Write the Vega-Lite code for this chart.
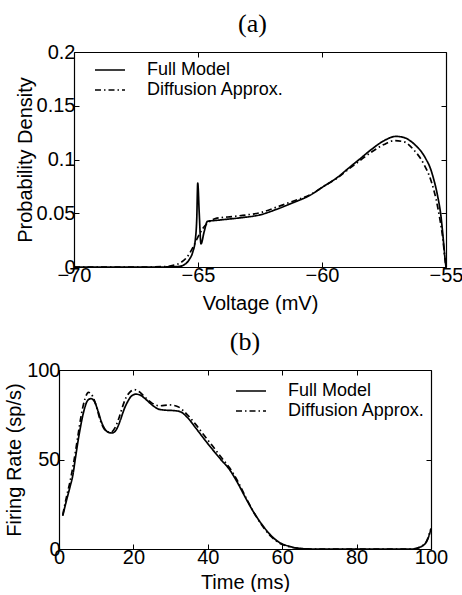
{
  "$schema": "https://vega.github.io/schema/vega-lite/v6.json",
  "padding": {"left": 4, "top": 11, "right": 0, "bottom": 0},
  "spacing": 16,
  "columns": 1,
  "resolve": {"scale": {"strokeDash": "independent"}, "legend": {"strokeDash": "independent"}},
  "config": {
    "font": "Liberation Sans",
    "view": {"stroke": null},
    "axis": {
      "domain": true, "domainColor": "black", "domainWidth": 1.2, "grid": false, "ticks": true, "tickColor": "black", "tickSize": -5, "tickWidth": 1,
      "labelFont": "Liberation Sans", "labelFontSize": 20, "labelColor": "black", "labelFlush": false, "labelOverlap": false,
      "titleFont": "Liberation Sans", "titleFontSize": 20, "titleFontWeight": "normal", "titleColor": "black",
      "labelPadding": 4, "titlePadding": 2
    },
    "axisX": {"labelPadding": 3, "titlePadding": 8},
    "legend": {"padding": 0},
    "title": {"font": "Liberation Serif", "fontSize": 26, "fontWeight": "normal", "color": "black", "anchor": "middle"}
  },
  "concat": [
    {
      "title": {"text": "(a)", "offset": 5},
      "width": 387, "height": 215,
      "data": {"values": [
        {"v": -70, "p": 0, "series": "Full Model"},
        {"v": -66.5, "p": 0, "series": "Full Model"},
        {"v": -66.0, "p": 0.0002, "series": "Full Model"},
        {"v": -65.7, "p": 0.0008, "series": "Full Model"},
        {"v": -65.5, "p": 0.003, "series": "Full Model"},
        {"v": -65.35, "p": 0.007, "series": "Full Model"},
        {"v": -65.21, "p": 0.014, "series": "Full Model"},
        {"v": -65.11, "p": 0.025, "series": "Full Model"},
        {"v": -65.05, "p": 0.045, "series": "Full Model"},
        {"v": -65.01, "p": 0.078, "series": "Full Model"},
        {"v": -64.95, "p": 0.05, "series": "Full Model"},
        {"v": -64.88, "p": 0.0215, "series": "Full Model"},
        {"v": -64.75, "p": 0.033, "series": "Full Model"},
        {"v": -64.62, "p": 0.0425, "series": "Full Model"},
        {"v": -64.2, "p": 0.0435, "series": "Full Model"},
        {"v": -63.8, "p": 0.0445, "series": "Full Model"},
        {"v": -63.2, "p": 0.046, "series": "Full Model"},
        {"v": -62.5, "p": 0.0485, "series": "Full Model"},
        {"v": -61.85, "p": 0.0535, "series": "Full Model"},
        {"v": -61.2, "p": 0.0595, "series": "Full Model"},
        {"v": -60.5, "p": 0.0665, "series": "Full Model"},
        {"v": -59.9, "p": 0.0755, "series": "Full Model"},
        {"v": -59.4, "p": 0.083, "series": "Full Model"},
        {"v": -58.9, "p": 0.0925, "series": "Full Model"},
        {"v": -58.5, "p": 0.1, "series": "Full Model"},
        {"v": -58.0, "p": 0.1095, "series": "Full Model"},
        {"v": -57.5, "p": 0.1175, "series": "Full Model"},
        {"v": -57.02, "p": 0.1215, "series": "Full Model"},
        {"v": -56.7, "p": 0.1205, "series": "Full Model"},
        {"v": -56.45, "p": 0.1175, "series": "Full Model"},
        {"v": -56.21, "p": 0.1128, "series": "Full Model"},
        {"v": -56.0, "p": 0.1075, "series": "Full Model"},
        {"v": -55.81, "p": 0.1005, "series": "Full Model"},
        {"v": -55.65, "p": 0.093, "series": "Full Model"},
        {"v": -55.5, "p": 0.082, "series": "Full Model"},
        {"v": -55.34, "p": 0.0663, "series": "Full Model"},
        {"v": -55.2, "p": 0.0467, "series": "Full Model"},
        {"v": -55.11, "p": 0.0258, "series": "Full Model"},
        {"v": -55.04, "p": 0.008, "series": "Full Model"},
        {"v": -55, "p": 0, "series": "Full Model"},
        {"v": -70, "p": 0, "series": "Diffusion Approx."},
        {"v": -67, "p": 0, "series": "Diffusion Approx."},
        {"v": -66.3, "p": 0.0005, "series": "Diffusion Approx."},
        {"v": -66.0, "p": 0.0015, "series": "Diffusion Approx."},
        {"v": -65.7, "p": 0.004, "series": "Diffusion Approx."},
        {"v": -65.45, "p": 0.009, "series": "Diffusion Approx."},
        {"v": -65.21, "p": 0.018, "series": "Diffusion Approx."},
        {"v": -65.0, "p": 0.028, "series": "Diffusion Approx."},
        {"v": -64.8, "p": 0.036, "series": "Diffusion Approx."},
        {"v": -64.6, "p": 0.041, "series": "Diffusion Approx."},
        {"v": -64.3, "p": 0.045, "series": "Diffusion Approx."},
        {"v": -63.8, "p": 0.0465, "series": "Diffusion Approx."},
        {"v": -63.2, "p": 0.048, "series": "Diffusion Approx."},
        {"v": -62.5, "p": 0.0505, "series": "Diffusion Approx."},
        {"v": -61.85, "p": 0.0555, "series": "Diffusion Approx."},
        {"v": -61.2, "p": 0.061, "series": "Diffusion Approx."},
        {"v": -60.5, "p": 0.067, "series": "Diffusion Approx."},
        {"v": -59.9, "p": 0.0755, "series": "Diffusion Approx."},
        {"v": -59.4, "p": 0.0825, "series": "Diffusion Approx."},
        {"v": -58.9, "p": 0.0915, "series": "Diffusion Approx."},
        {"v": -58.5, "p": 0.0985, "series": "Diffusion Approx."},
        {"v": -58.0, "p": 0.107, "series": "Diffusion Approx."},
        {"v": -57.5, "p": 0.114, "series": "Diffusion Approx."},
        {"v": -57.1, "p": 0.1175, "series": "Diffusion Approx."},
        {"v": -56.7, "p": 0.1165, "series": "Diffusion Approx."},
        {"v": -56.3, "p": 0.109, "series": "Diffusion Approx."},
        {"v": -55.9, "p": 0.096, "series": "Diffusion Approx."},
        {"v": -55.6, "p": 0.08, "series": "Diffusion Approx."},
        {"v": -55.4, "p": 0.063, "series": "Diffusion Approx."},
        {"v": -55.25, "p": 0.045, "series": "Diffusion Approx."},
        {"v": -55.12, "p": 0.025, "series": "Diffusion Approx."},
        {"v": -55.04, "p": 0.007, "series": "Diffusion Approx."},
        {"v": -55, "p": 0, "series": "Diffusion Approx."}
      ]},
      "resolve": {"axis": {"x": "independent", "y": "independent"}},
      "layer": [
        {
          "mark": {"type": "line", "color": "black", "strokeWidth": 1.7, "strokeJoin": "round", "interpolate": "monotone"},
          "encoding": {
            "x": {"field": "v", "type": "quantitative", "scale": {"domain": [-70, -55], "nice": false, "zero": false, "range": [15, 387]},
                  "axis": {"orient": "bottom", "values": [-70, -65, -60, -55], "title": "Voltage (mV)"}},
            "y": {"field": "p", "type": "quantitative", "scale": {"domain": [0, 0.2], "nice": false},
                  "axis": {"orient": "left", "offset": -15, "values": [0, 0.05, 0.1, 0.15, 0.2], "format": "~g", "title": "Probability Density", "titlePadding": 1}},
            "strokeDash": {"field": "series", "type": "nominal",
                  "scale": {"domain": ["Full Model", "Diffusion Approx."], "range": [[1, 0], [6, 3, 1.5, 3]]},
                  "legend": {"orient": "none", "legendX": 42, "legendY": 9, "title": null, "symbolType": "M-2.5,0H2.5", "symbolSize": 144,
                             "symbolStrokeWidth": 1.6, "symbolStrokeColor": "black", "symbolFillColor": "transparent", "labelFontSize": 18, "labelColor": "black",
                             "labelOffset": 28, "rowPadding": 2}}
          }
        },
        {
          "mark": {"type": "line", "opacity": 0},
          "encoding": {
            "x": {"field": "v", "type": "quantitative", "axis": {"orient": "top", "values": [-70, -65, -60, -55], "labels": false, "title": null}},
            "y": {"field": "p", "type": "quantitative", "axis": {"orient": "right", "values": [0, 0.05, 0.1, 0.15, 0.2], "labels": false, "title": null}},
            "detail": {"field": "series"}
          }
        }
      ]
    },
    {
      "title": {"text": "(b)", "offset": 5},
      "width": 372, "height": 179,
      "data": {"values": [
        {"t": 1, "r": 18.5, "series": "Full Model"},
        {"t": 2, "r": 27, "series": "Full Model"},
        {"t": 3, "r": 35, "series": "Full Model"},
        {"t": 3.7, "r": 41, "series": "Full Model"},
        {"t": 4.5, "r": 52, "series": "Full Model"},
        {"t": 5.5, "r": 65, "series": "Full Model"},
        {"t": 6.8, "r": 78, "series": "Full Model"},
        {"t": 7.7, "r": 83, "series": "Full Model"},
        {"t": 8.6, "r": 84, "series": "Full Model"},
        {"t": 9.5, "r": 82.5, "series": "Full Model"},
        {"t": 10.5, "r": 77, "series": "Full Model"},
        {"t": 11.5, "r": 70.5, "series": "Full Model"},
        {"t": 12.5, "r": 66.5, "series": "Full Model"},
        {"t": 13.5, "r": 65, "series": "Full Model"},
        {"t": 14.25, "r": 64.8, "series": "Full Model"},
        {"t": 15.5, "r": 67, "series": "Full Model"},
        {"t": 16.5, "r": 72, "series": "Full Model"},
        {"t": 17.5, "r": 78, "series": "Full Model"},
        {"t": 18.5, "r": 82.5, "series": "Full Model"},
        {"t": 19.5, "r": 85.5, "series": "Full Model"},
        {"t": 20.7, "r": 86.5, "series": "Full Model"},
        {"t": 21.8, "r": 86, "series": "Full Model"},
        {"t": 23.4, "r": 83.5, "series": "Full Model"},
        {"t": 25, "r": 80.5, "series": "Full Model"},
        {"t": 27, "r": 78, "series": "Full Model"},
        {"t": 29, "r": 77.5, "series": "Full Model"},
        {"t": 31, "r": 77.3, "series": "Full Model"},
        {"t": 32.8, "r": 76.5, "series": "Full Model"},
        {"t": 34.5, "r": 73.5, "series": "Full Model"},
        {"t": 36.8, "r": 67.5, "series": "Full Model"},
        {"t": 39, "r": 61.5, "series": "Full Model"},
        {"t": 41.3, "r": 55.5, "series": "Full Model"},
        {"t": 43.5, "r": 50, "series": "Full Model"},
        {"t": 45.8, "r": 44.5, "series": "Full Model"},
        {"t": 48, "r": 37, "series": "Full Model"},
        {"t": 50.3, "r": 28, "series": "Full Model"},
        {"t": 52.5, "r": 20, "series": "Full Model"},
        {"t": 54.8, "r": 13, "series": "Full Model"},
        {"t": 57, "r": 7.5, "series": "Full Model"},
        {"t": 59.2, "r": 3.7, "series": "Full Model"},
        {"t": 61.9, "r": 1.5, "series": "Full Model"},
        {"t": 65, "r": 0.3, "series": "Full Model"},
        {"t": 68, "r": 0, "series": "Full Model"},
        {"t": 95, "r": 0, "series": "Full Model"},
        {"t": 96.9, "r": 0.9, "series": "Full Model"},
        {"t": 98.7, "r": 3.7, "series": "Full Model"},
        {"t": 100, "r": 11.2, "series": "Full Model"},
        {"t": 1, "r": 19, "series": "Diffusion Approx."},
        {"t": 2, "r": 29, "series": "Diffusion Approx."},
        {"t": 3, "r": 38, "series": "Diffusion Approx."},
        {"t": 4, "r": 49, "series": "Diffusion Approx."},
        {"t": 5, "r": 62, "series": "Diffusion Approx."},
        {"t": 6, "r": 75, "series": "Diffusion Approx."},
        {"t": 7, "r": 84, "series": "Diffusion Approx."},
        {"t": 7.9, "r": 87.5, "series": "Diffusion Approx."},
        {"t": 9, "r": 85.5, "series": "Diffusion Approx."},
        {"t": 10, "r": 80, "series": "Diffusion Approx."},
        {"t": 11, "r": 72.5, "series": "Diffusion Approx."},
        {"t": 12, "r": 67.5, "series": "Diffusion Approx."},
        {"t": 13, "r": 65.5, "series": "Diffusion Approx."},
        {"t": 14, "r": 65.3, "series": "Diffusion Approx."},
        {"t": 15, "r": 67.5, "series": "Diffusion Approx."},
        {"t": 16, "r": 72.5, "series": "Diffusion Approx."},
        {"t": 17, "r": 79, "series": "Diffusion Approx."},
        {"t": 18, "r": 84.5, "series": "Diffusion Approx."},
        {"t": 19, "r": 87.5, "series": "Diffusion Approx."},
        {"t": 20.2, "r": 89, "series": "Diffusion Approx."},
        {"t": 21.5, "r": 88, "series": "Diffusion Approx."},
        {"t": 23, "r": 85, "series": "Diffusion Approx."},
        {"t": 25, "r": 81.5, "series": "Diffusion Approx."},
        {"t": 27, "r": 80, "series": "Diffusion Approx."},
        {"t": 29.7, "r": 80.5, "series": "Diffusion Approx."},
        {"t": 32, "r": 79.5, "series": "Diffusion Approx."},
        {"t": 34.5, "r": 75, "series": "Diffusion Approx."},
        {"t": 36.8, "r": 69.5, "series": "Diffusion Approx."},
        {"t": 39, "r": 63.5, "series": "Diffusion Approx."},
        {"t": 41.3, "r": 57.5, "series": "Diffusion Approx."},
        {"t": 43.5, "r": 51.5, "series": "Diffusion Approx."},
        {"t": 45.8, "r": 45.5, "series": "Diffusion Approx."},
        {"t": 48, "r": 38, "series": "Diffusion Approx."},
        {"t": 50.3, "r": 28.5, "series": "Diffusion Approx."},
        {"t": 52.5, "r": 20, "series": "Diffusion Approx."},
        {"t": 54.8, "r": 12.5, "series": "Diffusion Approx."},
        {"t": 57, "r": 7, "series": "Diffusion Approx."},
        {"t": 59.2, "r": 3.4, "series": "Diffusion Approx."},
        {"t": 61.9, "r": 1.3, "series": "Diffusion Approx."},
        {"t": 65, "r": 0.2, "series": "Diffusion Approx."},
        {"t": 68, "r": 0, "series": "Diffusion Approx."},
        {"t": 95, "r": 0, "series": "Diffusion Approx."},
        {"t": 96.9, "r": 1, "series": "Diffusion Approx."},
        {"t": 98.7, "r": 4, "series": "Diffusion Approx."},
        {"t": 100, "r": 11.5, "series": "Diffusion Approx."}
      ]},
      "resolve": {"axis": {"x": "independent", "y": "independent"}},
      "layer": [
        {
          "mark": {"type": "line", "color": "black", "strokeWidth": 1.7, "strokeJoin": "round", "interpolate": "monotone"},
          "encoding": {
            "x": {"field": "t", "type": "quantitative", "scale": {"domain": [0, 100], "nice": false},
                  "axis": {"orient": "bottom", "values": [0, 20, 40, 60, 80, 100], "title": "Time (ms)", "titlePadding": 5}},
            "y": {"field": "r", "type": "quantitative", "scale": {"domain": [0, 100], "nice": false},
                  "axis": {"orient": "left", "values": [0, 50, 100], "title": "Firing Rate (sp/s)"}},
            "strokeDash": {"field": "series", "type": "nominal",
                  "scale": {"domain": ["Full Model", "Diffusion Approx."], "range": [[1, 0], [6, 3, 1.5, 3]]},
                  "legend": {"orient": "none", "legendX": 183, "legendY": 12, "title": null, "symbolType": "M-2.5,0H2.5", "symbolSize": 144,
                             "symbolStrokeWidth": 1.6, "symbolStrokeColor": "black", "symbolFillColor": "transparent", "labelFontSize": 18, "labelColor": "black",
                             "labelOffset": 28, "rowPadding": 2}}
          }
        },
        {
          "mark": {"type": "line", "opacity": 0},
          "encoding": {
            "x": {"field": "t", "type": "quantitative", "axis": {"orient": "top", "values": [0, 20, 40, 60, 80, 100], "labels": false, "title": null}},
            "y": {"field": "r", "type": "quantitative", "axis": {"orient": "right", "values": [0, 50, 100], "labels": false, "title": null}},
            "detail": {"field": "series"}
          }
        }
      ]
    }
  ]
}
